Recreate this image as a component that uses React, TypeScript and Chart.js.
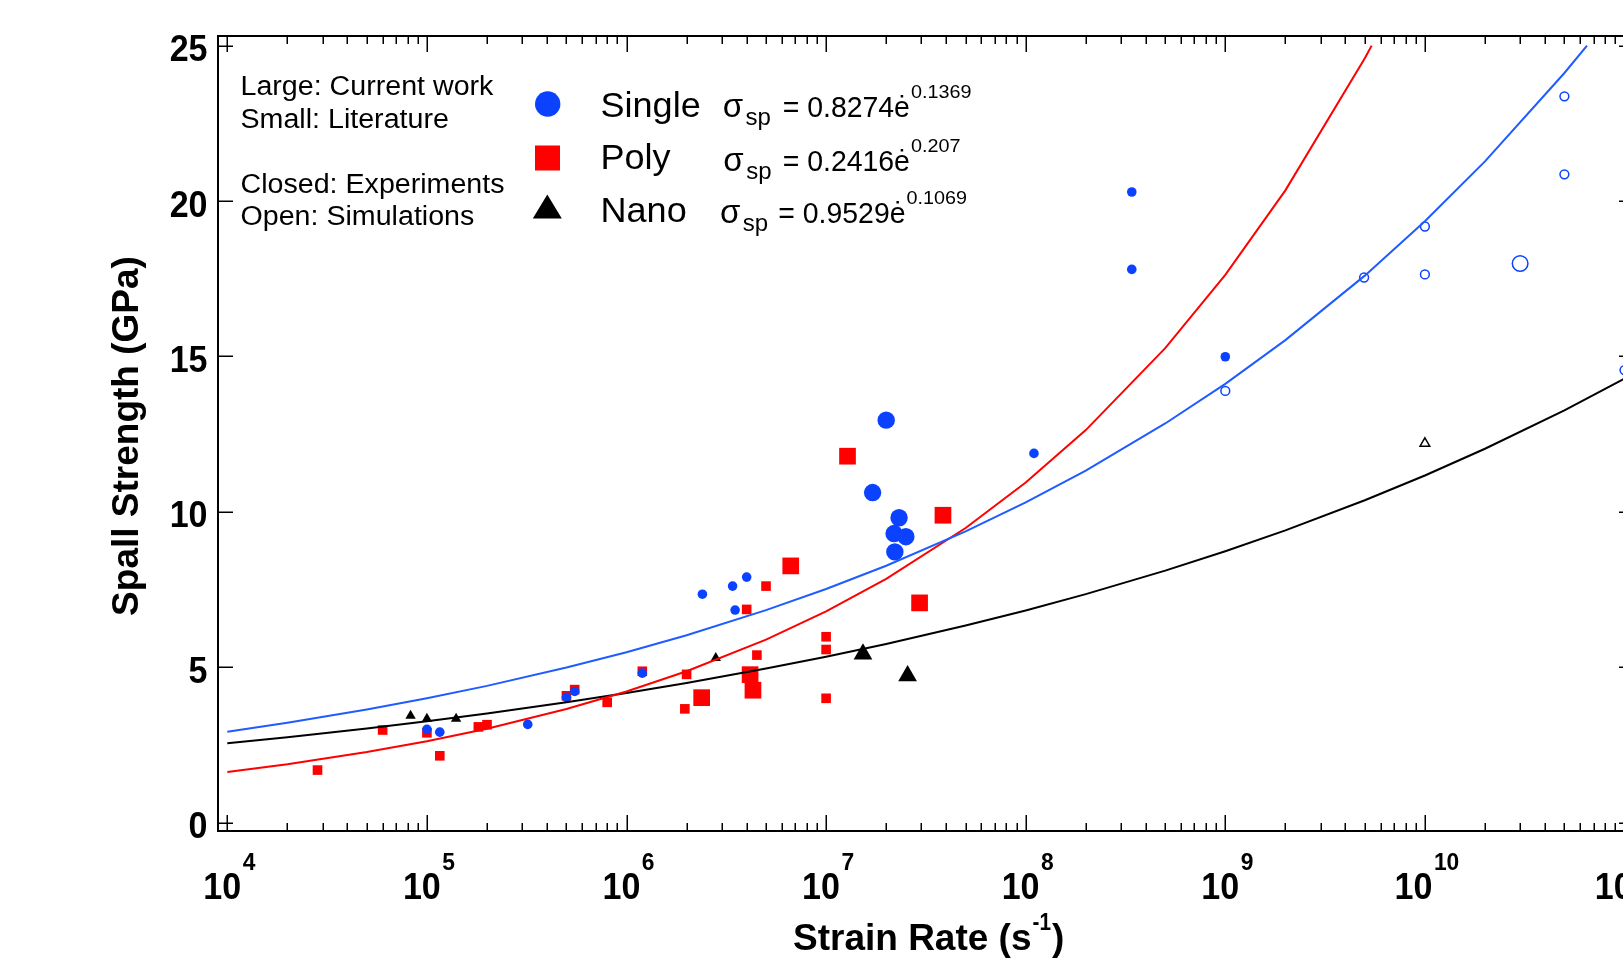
import { useEffect, useRef } from 'react';
import { Chart, registerables } from 'chart.js';

Chart.register(...registerables);

// ---------------- data ----------------
// Single crystal
const singleLitExpX = [1.0e5, 1.16e5, 3.2e5, 5.0e5, 5.5e5, 1.2e6, 2.4e6, 3.4e6, 4.0e6, 3.5e6, 1.1e8, 3.4e8, 3.4e8, 1.0e9];
const singleLitExpY = [3.0, 2.91, 3.16, 4.03, 4.22, 4.81, 7.35, 7.61, 7.9, 6.84, 11.88, 20.29, 17.8, 14.99];
const singleCurExpX = [2.0e7, 1.71e7, 2.32e7, 2.19e7, 2.51e7, 2.21e7];
const singleCurExpY = [12.95, 10.62, 9.81, 9.3, 9.2, 8.71];
const singleLitSimX = [1.0e9, 4.96e9, 1.0e10, 1.0e10, 5.0e10, 5.0e10, 1.0e11];
const singleLitSimY = [13.89, 17.54, 19.18, 17.64, 23.37, 20.86, 14.56];
const singleCurSimX = [3.0e10];
const singleCurSimY = [17.99];

// Poly crystal
const polyLitExpX = [2.83e4, 6.0e4, 1.0e5, 1.16e5, 1.81e5, 2.0e5, 5.0e5, 5.5e5, 8.0e5, 1.2e6, 2.0e6, 1.96e6, 4.0e6, 4.5e6, 5.0e6, 1.0e7, 1.0e7, 1.0e7];
const polyLitExpY = [1.69, 2.98, 2.89, 2.15, 3.08, 3.15, 4.08, 4.28, 3.87, 4.87, 4.77, 3.66, 6.86, 5.39, 7.61, 5.98, 5.57, 4.0];
const polyCurExpX = [2.38e6, 4.16e6, 4.3e6, 6.65e6, 1.28e7, 2.94e7, 3.85e7];
const polyCurExpY = [4.02, 4.76, 4.26, 8.26, 11.79, 7.07, 9.89];

// Nano crystal
const nanoLitExpX = [8.28e4, 1.0e5, 1.4e5, 2.8e6];
const nanoLitExpY = [3.44, 3.34, 3.34, 5.3];
const nanoCurExpX = [1.53e7, 2.56e7];
const nanoCurExpY = [5.42, 4.72];
const nanoLitSimX = [1.0e10];
const nanoLitSimY = [12.2];

const singleFitX = [1e4, 2e4, 5e4, 1e5, 2e5, 5e5, 1e6, 2e6, 5e6, 1e7, 2e7, 5e7, 1e8, 2e8, 5e8, 1e9, 2e9, 5e9, 1e10, 2e10, 5e10, 6.49e10];
const singleFitY = [2.92, 3.21, 3.639, 4.0, 4.4, 4.988, 5.484, 6.03, 6.836, 7.516, 8.265, 9.369, 10.302, 11.328, 12.843, 14.119, 15.525, 17.6, 19.351, 21.277, 24.12, 25.0];
const polyFitX = [1e4, 2e4, 5e4, 1e5, 2e5, 5e5, 1e6, 2e6, 5e6, 1e7, 2e7, 5e7, 1e8, 2e8, 5e8, 1e9, 2e9, 5e9, 5.41e9];
const polyFitY = [1.626, 1.877, 2.269, 2.619, 3.023, 3.654, 4.218, 4.869, 5.886, 6.794, 7.842, 9.48, 10.941, 12.63, 15.268, 17.624, 20.343, 24.592, 25.0];
const nanoFitX = [1e4, 2e4, 5e4, 1e5, 2e5, 5e5, 1e6, 2e6, 5e6, 1e7, 2e7, 5e7, 1e8, 2e8, 5e8, 1e9, 2e9, 5e9, 1e10, 2e10, 5e10, 1e11, 2e11];
const nanoFitY = [2.551, 2.747, 3.029, 3.263, 3.513, 3.875, 4.173, 4.494, 4.956, 5.338, 5.748, 6.34, 6.827, 7.352, 8.109, 8.733, 9.404, 10.372, 11.17, 12.029, 13.267, 14.287, 15.386];

// Axis ticks / labels
const xDecades = [4, 5, 6, 7, 8, 9, 10, 11];
const yTicks = [0, 5, 10, 15, 20, 25];

const legendNames = ['Single', 'Poly', 'Nano'];
const legendCoef = ['= 0.8274ė', '= 0.2416ė', '= 0.9529ė'];
const legendExp = ['0.1369', '0.207', '0.1069'];
const noteLines = ['Large: Current work', 'Small: Literature', 'Closed: Experiments', 'Open: Simulations'];

// ---------------- styling ----------------
const BLUE = '#0a42ff';
const BLUE_LINE = '#1f5cff';
const RED = '#ff0000';
const BLACK = '#000000';
const CW = 1660;
const CH = 958;
const FONT = '"Liberation Sans", Arial, Helvetica, sans-serif';

function pts(xs: number[], ys: number[]) {
  return xs.map((x, i) => ({ x, y: ys[i] }));
}

function txt(ctx: CanvasRenderingContext2D, s: string, x: number, y: number, font: string, align: CanvasTextAlign = 'left', sx = 1) {
  ctx.save();
  ctx.font = font;
  ctx.textAlign = align;
  ctx.textBaseline = 'alphabetic';
  const w = ctx.measureText(s).width * sx;
  ctx.translate(x, y);
  ctx.scale(sx, 1);
  ctx.fillText(s, 0, 0);
  ctx.restore();
  return w;
}

function measure(ctx: CanvasRenderingContext2D, s: string, font: string, sx = 1) {
  ctx.save();
  ctx.font = font;
  const w = ctx.measureText(s).width * sx;
  ctx.restore();
  return w;
}

const decor = {
  id: 'decor',
  afterDraw(chart: any) {
    const ctx: CanvasRenderingContext2D = chart.ctx;
    const a = chart.chartArea;
    const xs = chart.scales.x;
    const ys = chart.scales.y;
    ctx.save();
    ctx.fillStyle = BLACK;
    ctx.strokeStyle = BLACK;

    // frame
    ctx.lineWidth = 2;
    ctx.strokeRect(a.left, a.top, a.right - a.left, a.bottom - a.top);

    // x ticks (inward, both sides)
    ctx.lineWidth = 1.5;
    ctx.beginPath();
    for (const e of xDecades) {
      for (let m = 1; m <= 9; m++) {
        const v = m * Math.pow(10, e);
        if (v > xs.max) break;
        const px = Math.round(xs.getPixelForValue(v)) + 0.25;
        const len = m === 1 ? 16 : 8;
        ctx.moveTo(px, a.bottom);
        ctx.lineTo(px, a.bottom - len);
        ctx.moveTo(px, a.top);
        ctx.lineTo(px, a.top + len);
      }
    }
    // y ticks
    for (const t of yTicks) {
      const py = Math.round(ys.getPixelForValue(t)) + 0.25;
      ctx.moveTo(a.left, py);
      ctx.lineTo(a.left + 15, py);
      ctx.moveTo(a.right, py);
      ctx.lineTo(a.right - 15, py);
    }
    ctx.stroke();

    // tick labels
    const TF = `bold 37px ${FONT}`;
    const SF = `bold 24px ${FONT}`;
    for (const e of xDecades) {
      const px = xs.getPixelForValue(Math.pow(10, e));
      const w10 = measure(ctx, '10', TF, 0.92);
      const wsup = measure(ctx, String(e), SF, 0.95);
      const total = w10 + 1.5 + wsup;
      const start = px - total / 2 + 2;
      txt(ctx, '10', start, 899, TF, 'left', 0.92);
      txt(ctx, String(e), start + w10 + 1.5, 870, SF, 'left', 0.95);
    }
    for (const t of yTicks) {
      const py = ys.getPixelForValue(t);
      txt(ctx, String(t), 207.5, py + 15.5, TF, 'right', 0.92);
    }

    // axis titles
    const TT = `bold 37px ${FONT}`;
    let x = 793;
    x += txt(ctx, 'Strain Rate (s', x, 950, TT);
    x += 1;
    x += txt(ctx, '-1', x, 930, `bold 23px ${FONT}`, 'left', 0.9);
    x += 1;
    txt(ctx, ')', x, 950, TT);

    ctx.save();
    ctx.translate(137.5, 436);
    ctx.rotate(-Math.PI / 2);
    ctx.font = TT;
    ctx.textAlign = 'center';
    ctx.textBaseline = 'alphabetic';
    ctx.fillText('Spall Strength (GPa)', 0, 0);
    ctx.restore();

    // note block
    const NF = `27px ${FONT}`;
    const noteY = [95, 127.5, 193, 225];
    noteLines.forEach((s, i) => txt(ctx, s, 240.5, noteY[i], NF, 'left', 1.06));

    // legend symbols
    ctx.fillStyle = BLUE;
    ctx.beginPath();
    ctx.arc(547.7, 104, 12.7, 0, Math.PI * 2);
    ctx.fill();
    ctx.fillStyle = RED;
    ctx.fillRect(535, 145.5, 25, 25);
    ctx.fillStyle = BLACK;
    ctx.beginPath();
    ctx.moveTo(547.3, 194.5);
    ctx.lineTo(561.8, 218.5);
    ctx.lineTo(532.8, 218.5);
    ctx.closePath();
    ctx.fill();

    // legend text
    const LF = `35px ${FONT}`;
    const nameY = [116.5, 169, 222];
    legendNames.forEach((s, i) => txt(ctx, s, 600.5, nameY[i], LF, 'left', 1.03));

    const EF = `29px ${FONT}`;
    const SigF = `33px ${FONT}`;
    const SubF = `24px ${FONT}`;
    const SupF = `18px ${FONT}`;
    const sigX = [722.7, 723.3, 720];
    const eqX = [782.7, 782.7, 778.3];
    const eqY = [117, 171, 223];
    for (let i = 0; i < 3; i++) {
      const b = eqY[i];
      const ws = txt(ctx, 'σ', sigX[i], b, SigF);
      txt(ctx, 'sp', sigX[i] + ws + 2.5, b + 8, SubF);
      const we = txt(ctx, legendCoef[i], eqX[i], b, EF, 'left', 0.98);
      txt(ctx, legendExp[i], eqX[i] + we + 1, b - 19, SupF, 'left', 1.1);
    }

    ctx.restore();
  },
};

export default function App() {
  const ref = useRef<HTMLCanvasElement | null>(null);

  useEffect(() => {
    if (!ref.current) return;
    const lineDs = (label: string, xsArr: number[], ysArr: number[], color: string) => ({
      label,
      data: pts(xsArr, ysArr),
      showLine: true,
      borderColor: color,
      borderWidth: 2,
      pointRadius: 0,
      fill: false,
      tension: 0,
    });
    const ptDs = (label: string, xsArr: number[], ysArr: number[], style: string, r: number, color: string, open = false) => ({
      label,
      data: pts(xsArr, ysArr),
      showLine: false,
      pointStyle: style,
      pointRadius: r,
      pointHoverRadius: r,
      pointBackgroundColor: open ? 'rgba(0,0,0,0)' : color,
      pointBorderColor: color,
      pointBorderWidth: open ? 1.5 : 0,
      backgroundColor: open ? 'rgba(0,0,0,0)' : color,
      borderColor: color,
    });

    const chart = new Chart(ref.current, {
      type: 'scatter',
      data: {
        datasets: [
          lineDs('Single fit', singleFitX, singleFitY, BLUE_LINE),
          lineDs('Poly fit', polyFitX, polyFitY, RED),
          lineDs('Nano fit', nanoFitX, nanoFitY, BLACK),
          ptDs('Single lit exp', singleLitExpX, singleLitExpY, 'circle', 4.8, BLUE),
          ptDs('Single cur exp', singleCurExpX, singleCurExpY, 'circle', 8.7, BLUE),
          ptDs('Single lit sim', singleLitSimX, singleLitSimY, 'circle', 4.4, BLUE, true),
          ptDs('Single cur sim', singleCurSimX, singleCurSimY, 'circle', 7.8, BLUE, true),
          ptDs('Nano lit exp', nanoLitExpX, nanoLitExpY, 'triangle', 6, BLACK),
          ptDs('Nano cur exp', nanoCurExpX, nanoCurExpY, 'triangle', 10.8, BLACK),
          ptDs('Nano lit sim', nanoLitSimX, nanoLitSimY, 'triangle', 5.6, BLACK, true),
          ptDs('Poly lit exp', polyLitExpX, polyLitExpY, 'rect', 6.8, RED),
          ptDs('Poly cur exp', polyCurExpX, polyCurExpY, 'rect', 11.8, RED),
        ] as any,
      },
      options: {
        animation: false,
        responsive: false,
        devicePixelRatio: 1,
        events: [],
        layout: { padding: { left: 218, top: 36, right: CW - 1634, bottom: CH - 831 } },
        plugins: { legend: { display: false }, tooltip: { enabled: false } },
        scales: {
          x: { type: 'logarithmic', min: 8980, max: 1.116e11, display: false },
          y: { type: 'linear', min: -0.27, max: 25.31, display: false },
        },
      } as any,
      plugins: [decor as any],
    });
    return () => chart.destroy();
  }, []);

  return (
    <div style={{ position: 'fixed', left: 0, top: 0, width: 1623, height: 958, overflow: 'hidden', background: '#ffffff' }}>
      <canvas ref={ref} width={CW} height={CH} style={{ display: 'block', width: CW, height: CH }} />
    </div>
  );
}
